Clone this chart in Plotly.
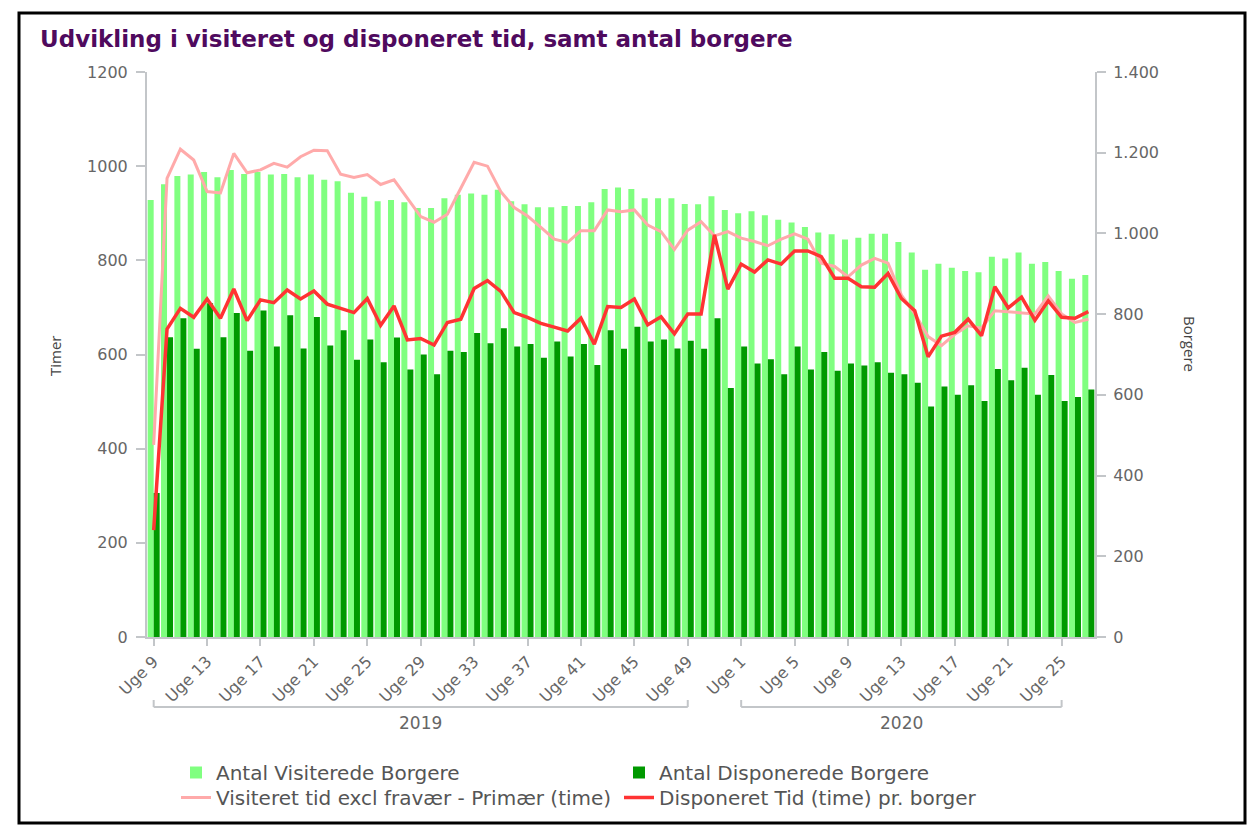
import plotly.graph_objects as go

# ---------------- data ----------------
weeks_2019 = list(range(9, 53))
weeks_2020 = list(range(1, 28))
categories = [f"2019 Uge {w}" for w in weeks_2019] + [f"2020 Uge {w}" for w in weeks_2020]

# Antal Visiterede Borgere (right axis, Borgere)
visiterede_borgere = [
    1083, 1122, 1142, 1146, 1152, 1139, 1157, 1147, 1152, 1146, 1147, 1139, 1146, 1133, 1129, 1101, 1091, 1080,
    1083, 1077, 1063, 1063, 1087, 1096, 1099, 1096, 1108, 1080, 1072, 1065, 1065, 1068, 1068, 1077, 1110, 1114,
    1110, 1087, 1087, 1087, 1073, 1072, 1092, 1058,
    1050, 1055, 1045, 1034, 1027, 1016, 1002, 998, 985,
    989, 999, 999, 979, 953, 910, 925, 915, 907, 904, 942, 938, 953, 925, 929, 907, 888, 897,
]
# Antal Disponerede Borgere (right axis, Borgere)
disponerede_borgere = [
    357, 743, 790, 714, 827, 743, 803, 709, 809, 720, 797, 715, 793, 722, 760, 687, 737, 681,
    742, 663, 700, 651, 709, 706, 753, 728, 765, 720, 726, 692, 732, 695, 726, 674, 760,
    714, 769, 732, 737, 715, 734, 714, 790, 617,
    720, 678, 688, 651, 720, 663, 706, 660, 678,
    673, 681, 655, 651, 630, 571, 621, 600, 624, 585, 664, 636, 667, 600, 649, 585, 595, 613,
]
# Visiteret tid excl fravær - Primær (time) (left axis, Timer)
visiteret_tid = [
    408, 974, 1036, 1013, 946, 943, 1027, 986, 992, 1006, 998, 1020, 1034, 1033, 983, 976, 982, 961,
    971, 932, 893, 881, 898, 953, 1008, 1000, 946, 912, 894, 870, 845, 838, 863, 863, 907,
    903, 907, 875, 861, 823, 864, 882, 852, 861,
    847, 840, 831, 845, 856, 845, 794, 787, 765,
    790, 804, 794, 726, 687, 638, 619, 643, 661, 656, 693, 691, 689, 686, 724, 686, 668, 675,
]
# Disponeret Tid (time) pr. borger (left axis, Timer)
disponeret_tid = [
    227, 654, 698, 679, 718, 677, 739, 672, 716, 710, 737, 718, 735, 707, 698, 689, 719, 662,
    703, 631, 634, 620, 668, 675, 740, 757, 734, 689, 679, 666, 658, 650, 677, 622, 702,
    700, 718, 663, 680, 644, 686, 686, 854, 739,
    792, 775, 801, 792, 820, 820, 808, 762, 762,
    744, 743, 772, 719, 693, 595, 639, 647, 675, 640, 744, 699, 722, 673, 714, 679, 677, 691,
]

tick_weeks_2019 = [9, 13, 17, 21, 25, 29, 33, 37, 41, 45, 49]
tick_weeks_2020 = [1, 5, 9, 13, 17, 21, 25]
tickvals = [f"2019 Uge {w}" for w in tick_weeks_2019] + [f"2020 Uge {w}" for w in tick_weeks_2020]
ticktext = [f"Uge {w}" for w in tick_weeks_2019] + [f"Uge {w}" for w in tick_weeks_2020]
years = ["2019", "2020"]
year_ticks = [tick_weeks_2019, tick_weeks_2020]

# ---------------- figure ----------------
W, H = 1249, 825
ML, MR, MT, MB = 147, 154, 72, 188
PW, PH = W - ML - MR, H - MT - MB


def px_x(px):
    return (px - ML) / PW


def px_y(py):
    return (H - MB - py) / PH


FONT = "DejaVu Sans"
TXT = "#666666"
AX = "#c3c6c9"

fig = go.Figure()
fig.add_trace(go.Bar(x=categories, y=visiterede_borgere, name="Antal Visiterede Borgere",
                     marker=dict(color="#80ff80", line=dict(width=0)), yaxis="y", legend="legend"))
fig.add_trace(go.Bar(x=categories, y=disponerede_borgere, name="Antal Disponerede Borgere",
                     marker=dict(color="#009900", line=dict(width=0)), yaxis="y", legend="legend"))
fig.add_trace(go.Scatter(x=categories, y=visiteret_tid, name="Visiteret tid excl fravær - Primær (time)",
                         mode="lines", line=dict(color="#ffaaaa", width=3), yaxis="y2", legend="legend2"))
fig.add_trace(go.Scatter(x=categories, y=disponeret_tid, name="Disponeret Tid (time) pr. borger",
                         mode="lines", line=dict(color="#ff3333", width=3.5), yaxis="y2", legend="legend2"))

shapes = [
    # outer frame
    dict(type="rect", xref="paper", yref="paper", x0=px_x(19), x1=px_x(1245), y0=px_y(823), y1=px_y(13),
         line=dict(color="black", width=3), fillcolor="rgba(0,0,0,0)", layer="below"),
]
annotations = []
yb = px_y(707)
yt = px_y(700)
for yr, tw in zip(years, year_ticks):
    c0 = f"{yr} Uge {tw[0]}"
    c1 = f"{yr} Uge {tw[-1]}"
    shapes.append(dict(type="line", xref="x", yref="paper", x0=c0, x1=c1, y0=yb, y1=yb,
                       line=dict(color=AX, width=2)))
    shapes.append(dict(type="line", xref="x", yref="paper", x0=c0, x1=c0, y0=yb, y1=yt,
                       line=dict(color=AX, width=2)))
    shapes.append(dict(type="line", xref="x", yref="paper", x0=c1, x1=c1, y0=yb, y1=yt,
                       line=dict(color=AX, width=2)))
    mid = (categories.index(c0) + categories.index(c1)) / 2
    annotations.append(dict(x=mid, xref="x", y=px_y(723), yref="paper", text=yr, showarrow=False,
                            font=dict(family=FONT, size=17, color=TXT), xanchor="center", yanchor="middle"))

annotations.append(dict(x=px_x(55), xref="paper", y=px_y(356), yref="paper", text="Timer", showarrow=False,
                        textangle=-90, xanchor="center", yanchor="middle",
                        font=dict(family="Open Sans", size=15, color="#444444")))
annotations.append(dict(x=px_x(1190), xref="paper", y=px_y(344), yref="paper", text="Borgere", showarrow=False,
                        textangle=90, xanchor="center", yanchor="middle",
                        font=dict(family="Open Sans", size=15, color="#444444")))

legend_common = dict(orientation="h", xref="container", yref="container", x=176 / W, xanchor="left",
                     yanchor="top", entrywidth=398, entrywidthmode="pixels", traceorder="normal",
                     font=dict(family=FONT, size=20, color="#555555"), bgcolor="rgba(0,0,0,0)")

fig.update_layout(
    width=W, height=H,
    margin=dict(l=ML, r=MR, t=MT, b=MB, pad=0, autoexpand=False),
    paper_bgcolor="white", plot_bgcolor="white",
    separators=",.",
    barmode="group", bargap=0.1, bargroupgap=0.0,
    title=dict(text="<b>Udvikling i visiteret og disponeret tid, samt antal borgere</b>",
               x=40 / W, xref="container", xanchor="left",
               y=1 - 39 / H, yref="container", yanchor="middle",
               font=dict(family="DejaVu Sans", size=23, color="#4f0a5e")),
    xaxis=dict(type="category", range=[-0.5, len(categories) - 0.5], automargin=False,
               tickmode="array", tickvals=tickvals, ticktext=ticktext, tickangle=-45,
               ticks="outside", ticklen=7, tickwidth=2, tickcolor=AX,
               showline=True, linecolor=AX, linewidth=2, showgrid=False, zeroline=False,
               tickfont=dict(family=FONT, size=16, color=TXT)),
    yaxis=dict(side="right", range=[0, 1400], tickmode="array", automargin=False,
               tickvals=[0, 200, 400, 600, 800, 1000, 1200, 1400], separatethousands=True,
               ticks="outside", ticklen=9, tickwidth=2, tickcolor=AX, ticklabelstandoff=4,
               showline=True, linecolor=AX, linewidth=2, showgrid=False, zeroline=False,
               tickfont=dict(family=FONT, size=16, color=TXT)),
    yaxis2=dict(side="left", overlaying="y", range=[0, 1200], tickmode="array", automargin=False,
                tickvals=[0, 200, 400, 600, 800, 1000, 1200],
                ticks="outside", ticklen=9, tickwidth=2, tickcolor=AX, ticklabelstandoff=5,
                showline=True, linecolor=AX, linewidth=2, showgrid=False, zeroline=False,
                tickfont=dict(family=FONT, size=16, color=TXT)),
    legend=dict(legend_common, y=1 - 753 / H),
    legend2=dict(legend_common, y=1 - 778 / H),
    shapes=shapes,
    annotations=annotations,
    hovermode=False,
)

fig.write_html(
    "out.html",
    config={"displayModeBar": False},
    post_script="document.body.style.margin='0';document.body.style.overflow='hidden';"
                "document.documentElement.style.overflow='hidden';",
)
